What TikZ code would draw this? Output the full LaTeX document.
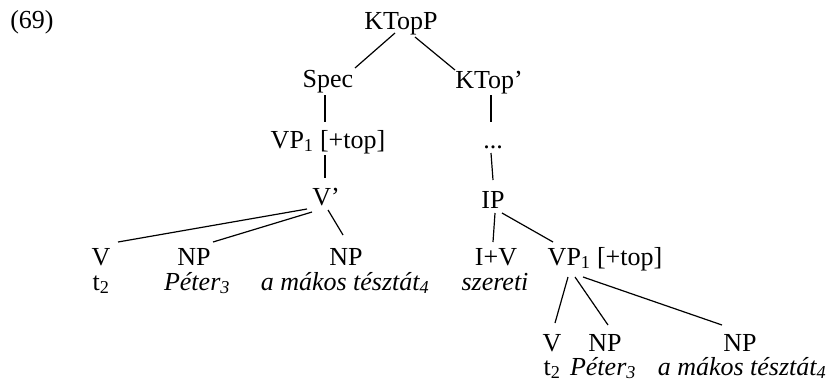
\documentclass[tikz,border=0pt]{standalone}
\usepackage{fontspec}
\setmainfont{Liberation Serif}
\tikzset{
  lbl/.style={anchor=base, inner sep=0pt, font=\fontsize{26}{29}\selectfont},
  conn/.style={line width=1.2pt, draw=black}
}
\begin{document}
\begin{tikzpicture}[x=1pt,y=-1pt]
\useasboundingbox (0,0) rectangle (834,384);
\node[lbl] (ex) at (32,28) {(69)};
\node[lbl] (ktp) at (401,29) {KTopP};
\node[lbl] (spec) at (328,87) {Spec};
\node[lbl] (ktb) at (489,88) {KTop’};
\node[lbl] (vp1) at (328,148) {VP\textsubscript{1} [+top]};
\node[lbl] (dots) at (493,148) {...};
\node[lbl] (vbar) at (326,205) {V’};
\node[lbl] (ip) at (493,208) {IP};
\node[lbl] (v1) at (101,265) {V};
\node[lbl] (np1) at (194,265) {NP};
\node[lbl] (np2) at (346,265) {NP};
\node[lbl] (t1) at (101,290) {t\textsubscript{2}};
\node[lbl] (pet1) at (197,290) {\itshape Péter\textsubscript{3}};
\node[lbl] (amt1) at (345,290) {\itshape a mákos tésztát\textsubscript{4}};
\node[lbl] (iv) at (496,265) {I+V};
\node[lbl] (vp2) at (605,265) {VP\textsubscript{1} [+top]};
\node[lbl] (sz) at (495,290) {\itshape szereti};
\node[lbl] (v2) at (552,351) {V};
\node[lbl] (np3) at (605,351) {NP};
\node[lbl] (np4) at (740,351) {NP};
\node[lbl] (t2) at (552,375) {t\textsubscript{2}};
\node[lbl] (pet2) at (603,375) {\itshape Péter\textsubscript{3}};
\node[lbl] (amt2) at (742,375) {\itshape a mákos tésztát\textsubscript{4}};
\draw[conn] ([shift={(-6,4)}]ktp.base) -- ([shift={(27,-19)}]spec.base);
\draw[conn] ([shift={(14,8)}]ktp.base) -- ([shift={(-34,-18)}]ktb.base);
\draw[conn] ([shift={(-3,8)}]spec.base) -- ([shift={(-3,-26)}]vp1.base);
\draw[conn] ([shift={(-3,7)}]vp1.base) -- ([shift={(-1,-27)}]vbar.base);
\draw[conn] ([shift={(2,7)}]ktb.base) -- ([shift={(-2,-26)}]dots.base);
\draw[conn] ([shift={(-2,5)}]dots.base) -- ([shift={(0,-28)}]ip.base);
\draw[conn] ([shift={(-19,4)}]vbar.base) -- ([shift={(17,-23)}]v1.base);
\draw[conn] ([shift={(-14,7)}]vbar.base) -- ([shift={(19,-23)}]np1.base);
\draw[conn] ([shift={(2,5)}]vbar.base) -- ([shift={(-3,-30)}]np2.base);
\draw[conn] ([shift={(2,5)}]ip.base) -- ([shift={(-3,-23)}]iv.base);
\draw[conn] ([shift={(9,5)}]ip.base) -- ([shift={(-52,-23)}]vp2.base);
\draw[conn] ([shift={(-37,12)}]vp2.base) -- ([shift={(3,-28)}]v2.base);
\draw[conn] ([shift={(-30,12)}]vp2.base) -- ([shift={(3,-26)}]np3.base);
\draw[conn] ([shift={(-22,12)}]vp2.base) -- ([shift={(-18,-26)}]np4.base);
\end{tikzpicture}
\end{document}
